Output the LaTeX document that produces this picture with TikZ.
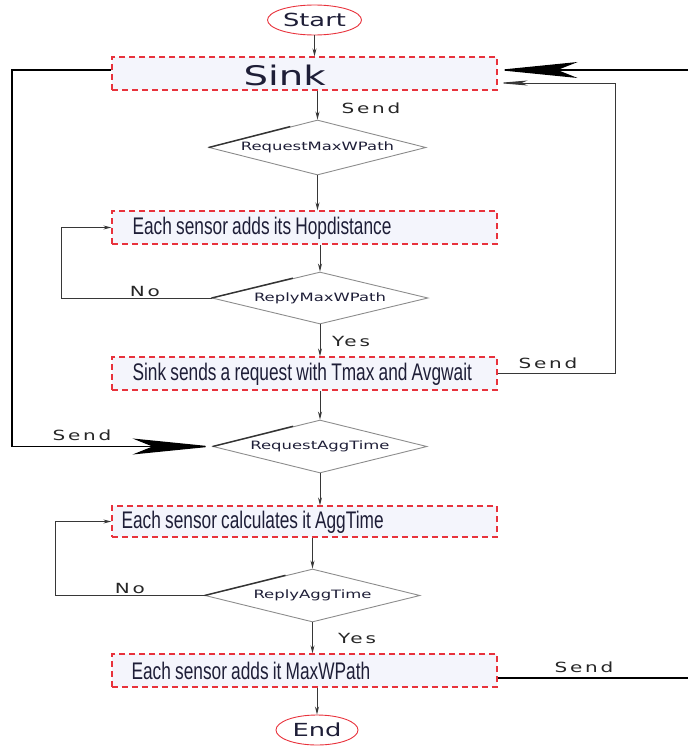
\documentclass[tikz,border=0pt]{standalone}
\usepackage{fontspec}
\usetikzlibrary{shapes.geometric, arrows.meta, calc}
\newfontfamily\wideF[FakeStretch=1.43]{DejaVu Sans}
\newfontfamily\wideLS[FakeStretch=1.43,LetterSpace=20]{DejaVu Sans}
\newfontfamily\narrowF[FakeStretch=0.72]{Liberation Sans}
\newcommand\procfont{\narrowF\fontsize{24}{26}\selectfont\spaceskip=4.2pt plus 1pt minus 0.5pt\relax}
\definecolor{boxred}{RGB}{232,50,60}
\definecolor{boxfill}{RGB}{244,245,252}
\definecolor{linegray}{RGB}{55,55,55}
\definecolor{diagray}{RGB}{140,140,140}
\definecolor{txt}{RGB}{30,30,55}
\begin{document}
\begin{tikzpicture}[x=1pt,y=-1pt,
  procbox/.style={draw=boxred, line width=1.2pt, dash pattern=on 6pt off 4pt, fill=boxfill, minimum width=385pt, minimum height=33pt, inner sep=0pt},
  proctext/.style={anchor=west, inner sep=0pt, text=txt, font=\procfont},
  termnode/.style={ellipse, draw=boxred, line width=0.9pt, inner sep=0pt, font=\wideF\fontsize{18}{20}\selectfont, text=txt},
  decision/.style={diamond, draw=diagray, line width=0.9pt, inner sep=0pt, aspect=4, font=\wideF\fontsize{11.5}{13}\selectfont, text=txt},
  darkedge/.style={draw=black!80, line width=1.4pt},
  conn/.style={draw=linegray, line width=1pt},
  arr/.style={conn, -{Stealth[length=8pt,width=4pt]}},
  longarr/.style={conn, -{Stealth[length=30pt,width=5pt,inset=6pt]}},
  bigarr/.style={draw=black, line width=1.4pt, -{Stealth[length=80pt,width=16pt,inset=20pt]}},
  lbl/.style={font=\wideLS\fontsize{14}{16}\selectfont, text=black!85, inner sep=0pt},
]
\useasboundingbox (0,0) rectangle (688,747);

% terminals
\node[termnode, minimum width=94pt, minimum height=30pt] (start) at (314.5,20) {Start};
\node[termnode, minimum width=82pt, minimum height=30pt] (end) at (317,730) {End};

% process boxes
\node[procbox] (sink) at (304.5,73.5) {};
\node[procbox] (hop) at (304.5,227.5) {};
\node[procbox] (ss) at (304.5,373.5) {};
\node[procbox, minimum height=31pt] (calc) at (304.5,521.5) {};
\node[procbox] (maxw) at (304.5,670.5) {};
\node[proctext, font=\wideF\fontsize{27}{30}\selectfont] (sinkT) at ($(sink.west)+(132,1.5)$) {Sink};
\node[proctext] (hopT) at ($(hop.west)+(21,1)$) {Each sensor adds its Hopdistance};
\node[proctext] (ssT) at ($(ss.west)+(21,1)$) {Sink sends a request with Tmax and Avgwait};
\node[proctext] (calcT) at ($(calc.west)+(10,0.5)$) {Each sensor calculates it AggTime};
\node[proctext] (maxwT) at ($(maxw.west)+(20,0)$) {Each sensor adds it MaxWPath};

% decisions
\node[decision, minimum width=217pt, minimum height=55pt] (d1) at (317.5,147.5) {RequestMaxWPath};
\node[decision, minimum width=216pt, minimum height=52pt] (d2) at (320,298) {ReplyMaxWPath};
\node[decision, minimum width=214pt, minimum height=53pt] (d3) at (320,446.5) {RequestAggTime};
\node[decision, minimum width=215pt, minimum height=53pt] (d4) at (312.5,595.5) {ReplyAggTime};
\foreach \d in {d1,d2,d3,d4} { \draw[darkedge] (\d.west) -- ($(\d.west)!0.75!(\d.north)$); }

% helper coordinates
\coordinate (sinkL) at ($(sink.west)+(0,-3.5)$);
\coordinate (sinkRtop) at ($(sink.east)+(0,-3.5)$);
\coordinate (sinkRlow) at ($(sink.east)+(0,9.5)$);
\coordinate (leftX) at (12,70);
\coordinate (rightX) at (615,373.5);
\coordinate (mxR) at ($(maxw.east)+(0,7.5)$);
\coordinate (farR) at (700,678);

% main flow
\draw[arr] (start.south) -- (start.south |- sink.north);
\draw[arr] (d1.north |- sink.south) -- (d1.north);
\draw[arr] (d1.south) -- (d1.south |- hop.north);
\draw[arr] (d2.north |- hop.south) -- (d2.north);
\draw[arr] (d2.south) -- (d2.south |- ss.north);
\draw[arr] (d3.north |- ss.south) -- (d3.north);
\draw[arr] (d3.south) -- (d3.south |- calc.north);
\draw[arr] (d4.north |- calc.south) -- (d4.north);
\draw[arr] (d4.south) -- (d4.south |- maxw.north);
\draw[arr] (end.north |- maxw.south) -- (end.north);

% loops
\draw[arr] (d2.west) -- ++(-150,0) |- (hop.west);
\draw[arr] (d4.west) -- ++(-149,0) |- (calc.west);
\draw[longarr] (ss.east) -- (rightX) |- (sinkRlow);
\draw[bigarr] (sinkL) -- (leftX) |- (d3.west);
\begin{scope}
\clip (0,0) rectangle (688,747);
\draw[bigarr] (mxR) -- (farR) |- (sinkRtop);
\end{scope}

% labels
\node[lbl] (l1) at (371,108) {Send};
\node[lbl] (l2) at (145,291) {No};
\node[lbl] (l3) at (351,341) {Yes};
\node[lbl] (l4) at (548,363) {Send};
\node[lbl] (l5) at (82,435) {Send};
\node[lbl] (l6) at (130,588) {No};
\node[lbl] (l7) at (357,638) {Yes};
\node[lbl] (l8) at (584,667) {Send};
\end{tikzpicture}
\end{document}
